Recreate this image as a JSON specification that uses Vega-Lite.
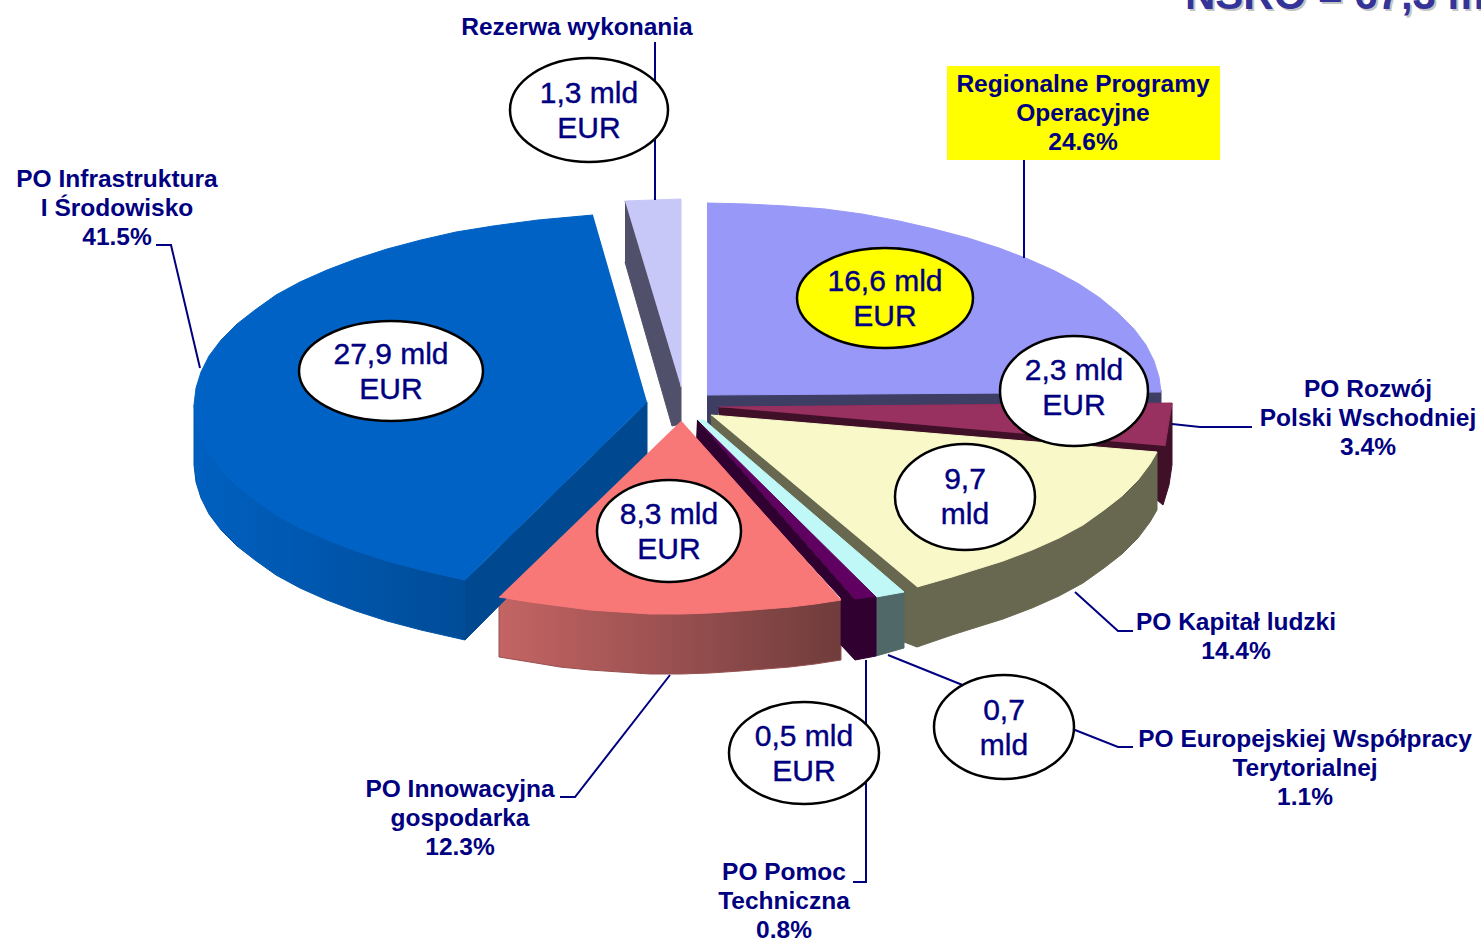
{
"$schema":"https://vega.github.io/schema/vega-lite/v6.json",
"width":1481,"height":940,"padding":0,"autosize":{"type":"none"},
"background":"white","view":{"stroke":null},
"config":{"axis":{"disable":true},"legend":{"disable":true}},
"resolve":{"scale":{"fill":"independent","stroke":"independent","shape":"independent"}},
"datasets":{
"blueSide":[
{"o":1,"x":194,"y":405},{"o":2,"x":194,"y":465},{"o":3,"x":196,"y":482},{"o":4,"x":201,"y":498},{"o":5,"x":209,"y":514},{"o":6,"x":221,"y":530},{"o":7,"x":237,"y":546},{"o":8,"x":255,"y":560},{"o":9,"x":276,"y":575},{"o":10,"x":300,"y":588},{"o":11,"x":327,"y":600},{"o":12,"x":356,"y":611},{"o":13,"x":387,"y":621},{"o":14,"x":421,"y":630},{"o":15,"x":465,"y":640},{"o":16,"x":465,"y":580},{"o":17,"x":421,"y":570},{"o":18,"x":356,"y":551},{"o":19,"x":300,"y":528},{"o":20,"x":255,"y":500},{"o":21,"x":221,"y":470},{"o":22,"x":201,"y":438}],
"pinkSide":[
{"o":1,"x":499,"y":597},{"o":2,"x":499,"y":657},{"o":3,"x":530,"y":662},{"o":4,"x":560,"y":667},{"o":5,"x":590,"y":670},{"o":6,"x":620,"y":672},{"o":7,"x":650,"y":674},{"o":8,"x":681,"y":674},{"o":9,"x":710,"y":673},{"o":10,"x":740,"y":671},{"o":11,"x":765,"y":669},{"o":12,"x":790,"y":667},{"o":13,"x":815,"y":664},{"o":14,"x":841,"y":660},{"o":15,"x":841,"y":600},{"o":16,"x":790,"y":607},{"o":17,"x":740,"y":611},{"o":18,"x":681,"y":614},{"o":19,"x":620,"y":612},{"o":20,"x":560,"y":606}],
"faces":[
{"face":"reserveSide","o":1,"x":625,"y":201},{"face":"reserveSide","o":2,"x":681,"y":387},{"face":"reserveSide","o":3,"x":681,"y":424},{"face":"reserveSide","o":4,"x":672,"y":426},{"face":"reserveSide","o":5,"x":625,"y":262},
{"face":"reserveTop","o":1,"x":625,"y":201},{"face":"reserveTop","o":2,"x":681,"y":199},{"face":"reserveTop","o":3,"x":681,"y":387},
{"face":"rpoSide","o":1,"x":707,"y":394},{"face":"rpoSide","o":2,"x":1161,"y":390},{"face":"rpoSide","o":3,"x":1161,"y":404},{"face":"rpoSide","o":4,"x":720,"y":408},{"face":"rpoSide","o":5,"x":712,"y":430},{"face":"rpoSide","o":6,"x":707,"y":430},
{"face":"rpoTop","o":1,"x":707,"y":203},{"face":"rpoTop","o":2,"x":747,"y":204},{"face":"rpoTop","o":3,"x":786,"y":206},{"face":"rpoTop","o":4,"x":825,"y":209},{"face":"rpoTop","o":5,"x":862,"y":214},{"face":"rpoTop","o":6,"x":899,"y":221},{"face":"rpoTop","o":7,"x":934,"y":229},{"face":"rpoTop","o":8,"x":968,"y":238},{"face":"rpoTop","o":9,"x":999,"y":248},{"face":"rpoTop","o":10,"x":1028,"y":259},{"face":"rpoTop","o":11,"x":1055,"y":271},{"face":"rpoTop","o":12,"x":1079,"y":284},{"face":"rpoTop","o":13,"x":1100,"y":298},{"face":"rpoTop","o":14,"x":1118,"y":313},{"face":"rpoTop","o":15,"x":1134,"y":329},{"face":"rpoTop","o":16,"x":1146,"y":345},{"face":"rpoTop","o":17,"x":1154,"y":361},{"face":"rpoTop","o":18,"x":1159,"y":377},{"face":"rpoTop","o":19,"x":1161,"y":392},{"face":"rpoTop","o":20,"x":707,"y":395},
{"face":"magSide","o":1,"x":719,"y":407},{"face":"magSide","o":2,"x":719,"y":416},{"face":"magSide","o":3,"x":1157,"y":452},{"face":"magSide","o":4,"x":1157,"y":500},{"face":"magSide","o":5,"x":1163,"y":505},{"face":"magSide","o":6,"x":1169,"y":485},{"face":"magSide","o":7,"x":1172,"y":465},{"face":"magSide","o":8,"x":1172,"y":403},
{"face":"magTop","o":1,"x":719,"y":407},{"face":"magTop","o":2,"x":1172,"y":403},{"face":"magTop","o":3,"x":1165,"y":446},
{"face":"olive","o":1,"x":711,"y":415},{"face":"olive","o":2,"x":712,"y":428},{"face":"olive","o":3,"x":904,"y":592},{"face":"olive","o":4,"x":904,"y":642},{"face":"olive","o":5,"x":917,"y":647},{"face":"olive","o":6,"x":952,"y":635},{"face":"olive","o":7,"x":971,"y":629},{"face":"olive","o":8,"x":1003,"y":619},{"face":"olive","o":9,"x":1032,"y":608},{"face":"olive","o":10,"x":1059,"y":596},{"face":"olive","o":11,"x":1083,"y":583},{"face":"olive","o":12,"x":1104,"y":568},{"face":"olive","o":13,"x":1122,"y":554},{"face":"olive","o":14,"x":1138,"y":538},{"face":"olive","o":15,"x":1150,"y":522},{"face":"olive","o":16,"x":1157,"y":510},{"face":"olive","o":17,"x":1157,"y":452},
{"face":"yellowTop","o":1,"x":711,"y":415},{"face":"yellowTop","o":2,"x":1157,"y":452},{"face":"yellowTop","o":3,"x":1150,"y":464},{"face":"yellowTop","o":4,"x":1138,"y":480},{"face":"yellowTop","o":5,"x":1122,"y":496},{"face":"yellowTop","o":6,"x":1104,"y":510},{"face":"yellowTop","o":7,"x":1083,"y":525},{"face":"yellowTop","o":8,"x":1059,"y":538},{"face":"yellowTop","o":9,"x":1032,"y":550},{"face":"yellowTop","o":10,"x":1003,"y":561},{"face":"yellowTop","o":11,"x":971,"y":571},{"face":"yellowTop","o":12,"x":952,"y":577},{"face":"yellowTop","o":13,"x":917,"y":587},
{"face":"cyanSide","o":1,"x":876,"y":597},{"face":"cyanSide","o":2,"x":904,"y":592},{"face":"cyanSide","o":3,"x":904,"y":648},{"face":"cyanSide","o":4,"x":876,"y":656},
{"face":"cyanTop","o":1,"x":697,"y":420},{"face":"cyanTop","o":2,"x":704,"y":420},{"face":"cyanTop","o":3,"x":904,"y":592},{"face":"cyanTop","o":4,"x":876,"y":597},
{"face":"purpleTop","o":1,"x":697,"y":420},{"face":"purpleTop","o":2,"x":876,"y":597},{"face":"purpleTop","o":3,"x":855,"y":600},
{"face":"purpleSide","o":1,"x":697,"y":420},{"face":"purpleSide","o":2,"x":855,"y":600},{"face":"purpleSide","o":3,"x":876,"y":597},{"face":"purpleSide","o":4,"x":876,"y":656},{"face":"purpleSide","o":5,"x":855,"y":660},{"face":"purpleSide","o":6,"x":841,"y":645},{"face":"purpleSide","o":7,"x":841,"y":598},{"face":"purpleSide","o":8,"x":696,"y":440},
{"face":"blueCut","o":1,"x":647,"y":402},{"face":"blueCut","o":2,"x":647,"y":457},{"face":"blueCut","o":3,"x":465,"y":640},{"face":"blueCut","o":4,"x":465,"y":580},
{"face":"blueTop","o":1,"x":593,"y":215},{"face":"blueTop","o":2,"x":538,"y":220},{"face":"blueTop","o":3,"x":493,"y":226},{"face":"blueTop","o":4,"x":456,"y":232},{"face":"blueTop","o":5,"x":421,"y":240},{"face":"blueTop","o":6,"x":387,"y":249},{"face":"blueTop","o":7,"x":356,"y":259},{"face":"blueTop","o":8,"x":327,"y":270},{"face":"blueTop","o":9,"x":300,"y":282},{"face":"blueTop","o":10,"x":276,"y":295},{"face":"blueTop","o":11,"x":255,"y":310},{"face":"blueTop","o":12,"x":237,"y":324},{"face":"blueTop","o":13,"x":221,"y":340},{"face":"blueTop","o":14,"x":209,"y":356},{"face":"blueTop","o":15,"x":201,"y":372},{"face":"blueTop","o":16,"x":196,"y":388},{"face":"blueTop","o":17,"x":194,"y":405},{"face":"blueTop","o":18,"x":196,"y":422},{"face":"blueTop","o":19,"x":201,"y":438},{"face":"blueTop","o":20,"x":209,"y":454},{"face":"blueTop","o":21,"x":221,"y":470},{"face":"blueTop","o":22,"x":237,"y":486},{"face":"blueTop","o":23,"x":255,"y":500},{"face":"blueTop","o":24,"x":276,"y":515},{"face":"blueTop","o":25,"x":300,"y":528},{"face":"blueTop","o":26,"x":327,"y":540},{"face":"blueTop","o":27,"x":356,"y":551},{"face":"blueTop","o":28,"x":387,"y":561},{"face":"blueTop","o":29,"x":421,"y":570},{"face":"blueTop","o":30,"x":465,"y":580},{"face":"blueTop","o":31,"x":647,"y":402},
{"face":"pinkTop","o":1,"x":681,"y":421},{"face":"pinkTop","o":2,"x":841,"y":600},{"face":"pinkTop","o":3,"x":815,"y":604},{"face":"pinkTop","o":4,"x":790,"y":607},{"face":"pinkTop","o":5,"x":765,"y":609},{"face":"pinkTop","o":6,"x":740,"y":611},{"face":"pinkTop","o":7,"x":710,"y":613},{"face":"pinkTop","o":8,"x":681,"y":614},{"face":"pinkTop","o":9,"x":650,"y":614},{"face":"pinkTop","o":10,"x":620,"y":612},{"face":"pinkTop","o":11,"x":590,"y":610},{"face":"pinkTop","o":12,"x":560,"y":606},{"face":"pinkTop","o":13,"x":530,"y":602},{"face":"pinkTop","o":14,"x":499,"y":597}
],
"leaders":[
{"id":"rez","o":1,"x":655,"y":42},{"id":"rez","o":2,"x":655,"y":200},
{"id":"reg","o":1,"x":1024,"y":160},{"id":"reg","o":2,"x":1024,"y":258},
{"id":"inf","o":1,"x":156,"y":245},{"id":"inf","o":2,"x":171,"y":245},{"id":"inf","o":3,"x":200,"y":368},
{"id":"roz","o":1,"x":1172,"y":424},{"id":"roz","o":2,"x":1200,"y":427},{"id":"roz","o":3,"x":1252,"y":427},
{"id":"kap","o":1,"x":1075,"y":592},{"id":"kap","o":2,"x":1118,"y":631},{"id":"kap","o":3,"x":1133,"y":631},
{"id":"eur","o":1,"x":888,"y":655},{"id":"eur","o":2,"x":970,"y":688},{"id":"eur","o":3,"x":1075,"y":730},{"id":"eur","o":4,"x":1118,"y":747},{"id":"eur","o":5,"x":1133,"y":747},
{"id":"inn","o":1,"x":670,"y":675},{"id":"inn","o":2,"x":575,"y":797},{"id":"inn","o":3,"x":560,"y":797},
{"id":"pom","o":1,"x":866,"y":660},{"id":"pom","o":2,"x":866,"y":882},{"id":"pom","o":3,"x":853,"y":882}
],
"ovals":[
{"v":"1,3 mld\nEUR","x":589,"y":110,"ty":94,"k":"a"},
{"v":"16,6 mld\nEUR","x":885,"y":298,"ty":282,"k":"b"},
{"v":"27,9 mld\nEUR","x":391,"y":371,"ty":355,"k":"c"},
{"v":"2,3 mld\nEUR","x":1074,"y":391,"ty":371,"k":"d"},
{"v":"9,7\nmld","x":965,"y":497,"ty":480,"k":"e"},
{"v":"8,3 mld\nEUR","x":669,"y":531,"ty":515,"k":"f"},
{"v":"0,5 mld\nEUR","x":804,"y":753,"ty":737,"k":"g"},
{"v":"0,7\nmld","x":1004,"y":727,"ty":711,"k":"h"}
],
"labels":[
{"t":"Rezerwa wykonania","x":577,"y":28},
{"t":"Regionalne Programy\nOperacyjne\n24.6%","x":1083,"y":85},
{"t":"PO Infrastruktura\nI Środowisko\n41.5%","x":117,"y":180},
{"t":"PO Rozwój\nPolski Wschodniej\n3.4%","x":1368,"y":390},
{"t":"PO Kapitał ludzki\n14.4%","x":1236,"y":623},
{"t":"PO Europejskiej Współpracy\nTerytorialnej\n1.1%","x":1305,"y":740},
{"t":"PO Innowacyjna\ngospodarka\n12.3%","x":460,"y":790},
{"t":"PO Pomoc\nTechniczna\n0.8%","x":784,"y":873}
]
},
"encoding":{
"x":{"field":"x","type":"quantitative","scale":{"domain":[0,1481],"nice":false,"zero":false},"axis":null},
"y":{"field":"y","type":"quantitative","scale":{"domain":[0,940],"nice":false,"zero":false,"reverse":true},"axis":null}
},
"layer":[
{"data":{"name":"blueSide"},"mark":{"type":"line","strokeWidth":1,"stroke":"#0054a8","fill":{"gradient":"linear","x1":0,"x2":1,"y1":0,"y2":0,"stops":[{"offset":0,"color":"#0060c0"},{"offset":1,"color":"#004c98"}]}},"encoding":{"order":{"field":"o","type":"quantitative"}}},
{"data":{"name":"pinkSide"},"mark":{"type":"line","strokeWidth":1,"stroke":"#985050","fill":{"gradient":"linear","x1":0,"x2":1,"y1":0,"y2":0,"stops":[{"offset":0,"color":"#c46464"},{"offset":1,"color":"#703c3c"}]}},"encoding":{"order":{"field":"o","type":"quantitative"}}},
{"data":{"name":"faces"},"mark":{"type":"line","strokeWidth":1},
"encoding":{"order":{"field":"o","type":"quantitative"},
"fill":{"field":"face","type":"nominal","legend":null,"scale":{"domain":["reserveSide","reserveTop","rpoSide","rpoTop","magSide","magTop","olive","yellowTop","cyanSide","cyanTop","purpleTop","purpleSide","blueCut","blueTop","pinkTop"],"range":["#50506a","#c8c8f8","#3e3e64","#9898f8","#401028","#983060","#686850","#f8f8c8","#506868","#c0f8f8","#600060","#300030","#004890","#0062c4","#f87878"]}},
"stroke":{"field":"face","type":"nominal","legend":null,"scale":{"domain":["reserveSide","reserveTop","rpoSide","rpoTop","magSide","magTop","olive","yellowTop","cyanSide","cyanTop","purpleTop","purpleSide","blueCut","blueTop","pinkTop"],"range":["#50506a","#c8c8f8","#3e3e64","#9898f8","#401028","#983060","#686850","#f8f8c8","#506868","#c0f8f8","#600060","#300030","#004890","#0062c4","#f87878"]}}}},
{"data":{"name":"leaders"},"mark":{"type":"line","color":"#000080"},"encoding":{"detail":{"field":"id","type":"nominal"},"order":{"field":"o","type":"quantitative"},
"strokeWidth":{"field":"id","type":"nominal","legend":null,"scale":{"domain":["rez","reg","inf","roz","kap","eur","inn","pom"],"range":[2,2,1,1.5,1.5,1.2,1,2]}}}},
{"data":{"values":[{"x":947,"x2":1220,"y":66,"y2":160}]},"mark":{"type":"rect","color":"#ffff00"},"encoding":{"x2":{"field":"x2"},"y2":{"field":"y2"}}},
{"data":{"name":"ovals"},"mark":{"type":"point","filled":false,"size":4,"stroke":"#000000","strokeWidth":2.5,"opacity":1},
"encoding":{
"shape":{"field":"k","type":"nominal","legend":null,"scale":{"domain":["a","b","c","d","e","f","g","h"],"range":["M-79,0A79,52 0 1 1 79,0A79,52 0 1 1 -79,0Z","M-88,0A88,50 0 1 1 88,0A88,50 0 1 1 -88,0Z","M-92,0A92,50 0 1 1 92,0A92,50 0 1 1 -92,0Z","M-74,0A74,55 0 1 1 74,0A74,55 0 1 1 -74,0Z","M-70,0A70,53 0 1 1 70,0A70,53 0 1 1 -70,0Z","M-72,0A72,51 0 1 1 72,0A72,51 0 1 1 -72,0Z","M-75,0A75,51 0 1 1 75,0A75,51 0 1 1 -75,0Z","M-70,0A70,52 0 1 1 70,0A70,52 0 1 1 -70,0Z"]}},
"fill":{"field":"k","type":"nominal","legend":null,"scale":{"domain":["a","b","c","d","e","f","g","h"],"range":["#ffffff","#ffff00","#ffffff","#ffffff","#ffffff","#ffffff","#ffffff","#ffffff"]}}}},
{"data":{"name":"ovals"},"mark":{"type":"text","font":"Liberation Sans","fontSize":30,"lineHeight":35,"lineBreak":"\n","align":"center","baseline":"middle","color":"#000080","stroke":"#000080","strokeWidth":0.4},"encoding":{"text":{"field":"v"},"y":{"field":"ty","type":"quantitative"}}},
{"data":{"name":"labels"},"mark":{"type":"text","font":"Liberation Sans","fontWeight":"bold","fontSize":24.5,"lineHeight":29,"lineBreak":"\n","align":"center","baseline":"middle","color":"#000080"},"encoding":{"text":{"field":"t"}}},
{"data":{"values":[{"t":"NSRO =  67,3 mld EUR","x":1185,"y":9}]},"mark":{"type":"text","clip":true,"font":"Liberation Sans","fontWeight":"bold","fontSize":42,"align":"left","baseline":"alphabetic","color":"#c4c4c4","dx":2,"dy":2},"encoding":{"text":{"field":"t"}}},
{"data":{"values":[{"t":"NSRO =  67,3 mld EUR","x":1185,"y":9}]},"mark":{"type":"text","clip":true,"font":"Liberation Sans","fontWeight":"bold","fontSize":42,"align":"left","baseline":"alphabetic","color":"#333399"},"encoding":{"text":{"field":"t"}}}
]
}
